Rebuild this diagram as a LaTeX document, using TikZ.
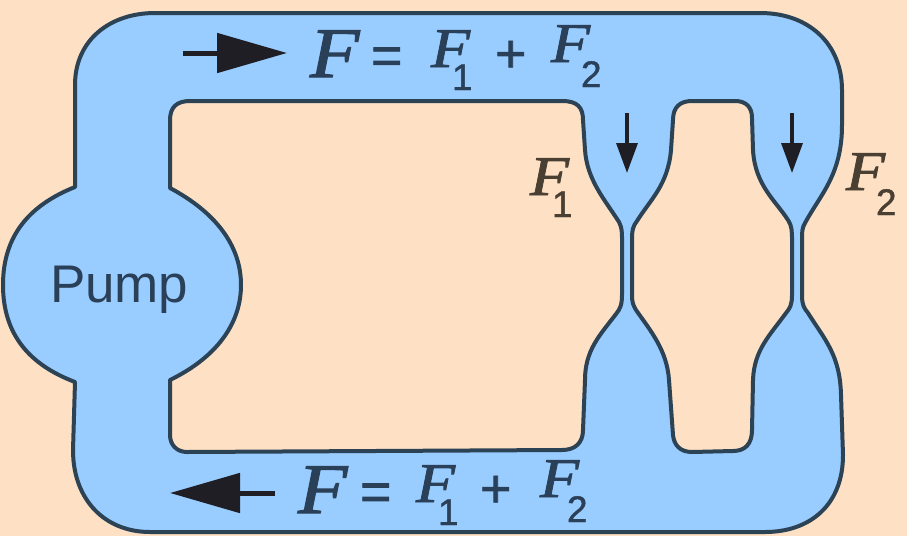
\documentclass[tikz,border=0pt]{standalone}
\usepackage{fontspec}
\setmainfont{Liberation Serif}
\setsansfont{Liberation Sans}
\newfontfamily\Ffont[FakeStretch=1.14,FakeBold=1.6]{Liberation Serif}
\newfontfamily\Nfont[FakeBold=1.2]{Liberation Sans}
\usetikzlibrary{arrows.meta}
\definecolor{peach}{HTML}{FEE0C4}
\definecolor{flow}{HTML}{99CCFF}
\definecolor{wall}{HTML}{2C4355}
\definecolor{ink}{HTML}{2A4058}
\definecolor{sideink}{HTML}{4A3F33}
\definecolor{arrowink}{HTML}{1E1E24}
\newcommand{\sz}[1]{\fontsize{#1}{#1}\selectfont}
\tikzset{
  lab/.style={inner sep=0pt,outer sep=0pt,anchor=base west,text=ink},
  bigF/.style={lab,font=\Ffont\sz{71}\itshape},
  midF/.style={lab,font=\Ffont\sz{56}\itshape},
  subnum/.style={lab,font=\Nfont\sz{37}},
  opsign/.style={lab,font=\Nfont\sz{54}},
  mainflow/.style={line width=5pt,arrowink,-{Triangle[length=70pt,width=39pt]}},
  branchflow/.style={line width=3.5pt,arrowink,-{Triangle[length=30pt,width=21pt]}},
  vessel/.style={draw=wall,line width=4pt,fill=flow,even odd rule,line join=round}
}
\begin{document}
\begin{tikzpicture}[x=1pt,y=-1pt]
\useasboundingbox (0,0) rectangle (907,536);
\fill[peach] (0,0) rectangle (907,536);
% vessel with two holes
\path[vessel]
  (75,187) -- (75,85) .. controls (75,40) and (110,13) .. (155,13)
  -- (760,13) .. controls (810,13) and (842,45) .. (842,90)
  -- (842,125) .. controls (842,175) and (820,195) .. (805,223)
  .. controls (802,228) and (802,232) .. (802,240)
  -- (802,295) .. controls (802,305) and (804,308) .. (808,313)
  .. controls (825,340) and (840,355) .. (841,395)
  -- (843,455) .. controls (843,505) and (810,532) .. (765,532)
  -- (150,532) .. controls (105,532) and (73,500) .. (73,450)
  -- (75,382) .. controls (30,365) and (3,335) .. (3,285)
  .. controls (3,235) and (30,205) .. (75,187) -- cycle
  (170,188) -- (170,120) .. controls (170,107) and (177,101) .. (190,101)
  -- (562,101) .. controls (577,101) and (583,107) .. (583,120)
  -- (585,150) .. controls (587,180) and (605,200) .. (619,222)
  .. controls (622,228) and (622,232) .. (622,240)
  -- (622,295) .. controls (622,305) and (620,309) .. (616,314)
  .. controls (600,335) and (585,350) .. (585,380)
  -- (583,430) .. controls (583,443) and (575,450) .. (562,450)
  -- (187,452) .. controls (177,452) and (170,445) .. (170,435)
  -- (170,380) .. controls (215,358) and (241,325) .. (241,285)
  .. controls (241,245) and (215,212) .. (170,188) -- cycle
  (673,120) .. controls (673,107) and (680,101) .. (692,101)
  -- (735,101) .. controls (746,101) and (752,107) .. (752,118)
  -- (753,150) .. controls (755,185) and (775,200) .. (788,220)
  .. controls (792,226) and (792,232) .. (792,240)
  -- (792,295) .. controls (792,305) and (790,308) .. (786,313)
  .. controls (770,335) and (754,350) .. (753,380)
  -- (752,430) .. controls (752,444) and (745,451) .. (733,451)
  -- (692,452) .. controls (680,452) and (674,445) .. (673,435)
  -- (669,380) .. controls (667,350) and (650,330) .. (636,310)
  .. controls (633,305) and (632,302) .. (632,295)
  -- (632,240) .. controls (632,230) and (633,226) .. (637,221)
  .. controls (650,200) and (668,185) .. (671,150) -- cycle;
% flow arrows
\coordinate (topS) at (183,53);
\coordinate (topE) at (287,53);
\coordinate (botS) at (275,493);
\coordinate (botE) at (170,493);
\coordinate (b1S) at (627,113);
\coordinate (b1E) at (627,173);
\coordinate (b2S) at (792,113);
\coordinate (b2E) at (792,173);
\draw[mainflow] (topS) -- (topE);
\draw[mainflow] (botS) -- (botE);
\draw[branchflow] (b1S) -- (b1E);
\draw[branchflow] (b2S) -- (b2E);
% pump
\node[lab,font=\sffamily\sz{53}] (pump) at (50,302) {Pump};
% top formula
\node[bigF] (tF) at (310,77) {F};
\node[opsign] (tEq) at (371,74) {=};
\node[midF] (tF1) at (431,67) {F};
\node[subnum] (t1) at (452,90) {1};
\node[opsign] (tPlus) at (495,72) {+};
\node[midF] (tF2) at (551,62) {F};
\node[subnum] (t2) at (581,87) {2};
% bottom formula
\node[bigF] (bF) at (298,513) {F};
\node[opsign] (bEq) at (360,510) {=};
\node[midF] (bF1) at (416,502) {F};
\node[subnum] (b1) at (438,525) {1};
\node[opsign] (bPlus) at (480,507) {+};
\node[midF] (bF2) at (540,497) {F};
\node[subnum] (b2) at (567,522) {2};
% side labels
\node[midF,text=sideink] (sF1) at (530,195) {F};
\node[subnum,text=sideink] (s1) at (552,217) {1};
\node[midF,text=sideink] (sF2) at (846,190) {F};
\node[subnum,text=sideink] (s2) at (876,215) {2};
\end{tikzpicture}
\end{document}
